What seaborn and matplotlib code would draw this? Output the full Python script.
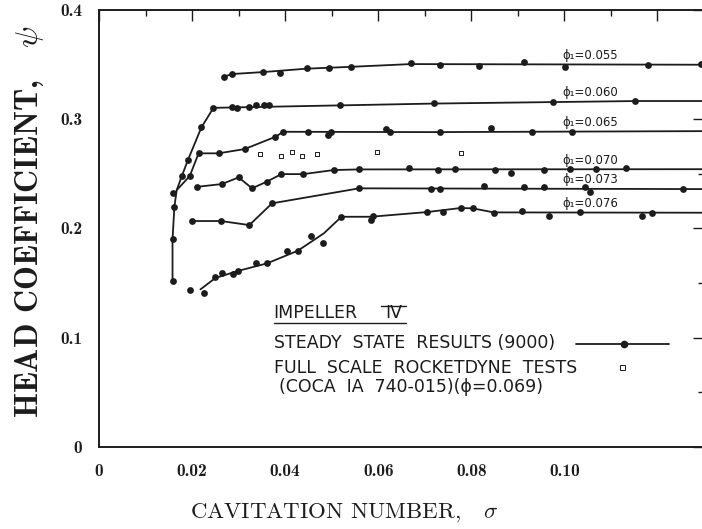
import numpy as np
import seaborn as sns
import matplotlib.pyplot as plt
from matplotlib.ticker import MultipleLocator

# flow coefficients of the six test curves
phi_values = ["0.055", "0.060", "0.065", "0.070", "0.073", "0.076"]

# measured points (cavitation number sigma, head coefficient psi)
sig_055 = [0.0268, 0.0286, 0.0353, 0.0388, 0.0446, 0.0494, 0.0542, 0.0670, 0.0733, 0.0817, 0.0914, 0.1001, 0.1180, 0.1293]
psi_055 = [0.3385, 0.3410, 0.3425, 0.3416, 0.3462, 0.3462, 0.3476, 0.3507, 0.3492, 0.3485, 0.3519, 0.3476, 0.3492, 0.3501]

sig_060 = [0.0158, 0.0158, 0.0162, 0.0159, 0.0178, 0.0191, 0.0220, 0.0246, 0.0286, 0.0297, 0.0323, 0.0338, 0.0354, 0.0365, 0.0517, 0.0720, 0.0976, 0.1152]
psi_060 = [0.1517, 0.1901, 0.2197, 0.2319, 0.2477, 0.2623, 0.2922, 0.3101, 0.3111, 0.3101, 0.3105, 0.3126, 0.3126, 0.3126, 0.3126, 0.3147, 0.3156, 0.3163]

sig_065 = [0.0195, 0.0214, 0.0257, 0.0313, 0.0379, 0.0396, 0.0450, 0.0491, 0.0498, 0.0616, 0.0626, 0.0733, 0.0843, 0.0931, 0.1017]
psi_065 = [0.2477, 0.2685, 0.2685, 0.2724, 0.2836, 0.2882, 0.2882, 0.2852, 0.2882, 0.2904, 0.2879, 0.2882, 0.2919, 0.2877, 0.2882]

sig_070 = [0.0211, 0.0264, 0.0300, 0.0329, 0.0360, 0.0392, 0.0439, 0.0504, 0.0559, 0.0666, 0.0729, 0.0764, 0.0850, 0.0886, 0.0956, 0.1011, 0.1069, 0.1132]
psi_070 = [0.2379, 0.2404, 0.2465, 0.2365, 0.2425, 0.2495, 0.2495, 0.2532, 0.2538, 0.2548, 0.2532, 0.2541, 0.2532, 0.2507, 0.2532, 0.2538, 0.2541, 0.2548]

sig_073 = [0.0200, 0.0262, 0.0323, 0.0372, 0.0559, 0.0713, 0.0733, 0.0827, 0.0913, 0.0956, 0.1044, 0.1056, 0.1254]
psi_073 = [0.2066, 0.2066, 0.2029, 0.2228, 0.2365, 0.2358, 0.2358, 0.2388, 0.2374, 0.2379, 0.2379, 0.2334, 0.2356]

sig_076 = [0.0195, 0.0226, 0.0250, 0.0264, 0.0288, 0.0298, 0.0338, 0.0361, 0.0405, 0.0427, 0.0455, 0.0482, 0.0521, 0.0584, 0.0588, 0.0705, 0.0739, 0.0777, 0.0803, 0.0848, 0.0909, 0.0967, 0.1033, 0.1166, 0.1188]
psi_076 = [0.1435, 0.1410, 0.1557, 0.1588, 0.1581, 0.1609, 0.1685, 0.1679, 0.1792, 0.1794, 0.1929, 0.1867, 0.2105, 0.2075, 0.2112, 0.2151, 0.2151, 0.2187, 0.2182, 0.2142, 0.2157, 0.2114, 0.2145, 0.2114, 0.2142]

# faired curves drawn through the points
fit_sig_055 = [0.0268, 0.0286, 0.0353, 0.0446, 0.0542, 0.0670, 0.1300]
fit_psi_055 = [0.3385, 0.3410, 0.3428, 0.3459, 0.3476, 0.3501, 0.3495]

fit_sig_060 = [0.0158, 0.0158, 0.0162, 0.0167, 0.0178, 0.0191, 0.0220, 0.0246, 0.0720, 0.1152, 0.1300]
fit_psi_060 = [0.1517, 0.1901, 0.2197, 0.2349, 0.2477, 0.2623, 0.2922, 0.3101, 0.3140, 0.3163, 0.3163]

fit_sig_065 = [0.0167, 0.0195, 0.0214, 0.0257, 0.0313, 0.0379, 0.0396, 0.0713, 0.1300]
fit_psi_065 = [0.2349, 0.2477, 0.2685, 0.2685, 0.2724, 0.2836, 0.2882, 0.2879, 0.2888]

fit_sig_070 = [0.0211, 0.0264, 0.0300, 0.0329, 0.0360, 0.0392, 0.0439, 0.0504, 0.0559, 0.1300]
fit_psi_070 = [0.2379, 0.2404, 0.2465, 0.2365, 0.2425, 0.2495, 0.2495, 0.2532, 0.2538, 0.2540]

fit_sig_073 = [0.0200, 0.0262, 0.0323, 0.0372, 0.0559, 0.1300]
fit_psi_073 = [0.2066, 0.2066, 0.2029, 0.2228, 0.2365, 0.2358]

fit_sig_076 = [0.0218, 0.0250, 0.0298, 0.0361, 0.0427, 0.0483, 0.0521, 0.0584, 0.0705, 0.0777, 0.0803, 0.0848, 0.1300]
fit_psi_076 = [0.1441, 0.1545, 0.1609, 0.1679, 0.1794, 0.1953, 0.2105, 0.2105, 0.2148, 0.2185, 0.2182, 0.2145, 0.2142]

# full scale Rocketdyne tests (phi = 0.069)
sig_rocket = [0.0347, 0.0390, 0.0414, 0.0437, 0.0469, 0.0597, 0.0777]
psi_rocket = [0.2676, 0.2660, 0.2699, 0.2663, 0.2676, 0.2694, 0.2690]

x_ticks = [0.0, 0.02, 0.04, 0.06, 0.08, 0.10, 0.12]
x_ticklabels = ["0", "0.02", "0.04", "0.06", "0.08", "0.10", ""]
y_ticks = [0.0, 0.1, 0.2, 0.3, 0.4]
y_ticklabels = ["0", "0.1", "0.2", "0.3", "0.4"]

points = [(sig_055, psi_055), (sig_060, psi_060), (sig_065, psi_065),
          (sig_070, psi_070), (sig_073, psi_073), (sig_076, psi_076)]
fits = [(fit_sig_055, fit_psi_055), (fit_sig_060, fit_psi_060), (fit_sig_065, fit_psi_065),
        (fit_sig_070, fit_psi_070), (fit_sig_073, fit_psi_073), (fit_sig_076, fit_psi_076)]

sns.set_theme(style="white")
plt.rcParams['mathtext.fontset'] = 'cm'
ink = '#1c1c1c'

fig = plt.figure(figsize=(7.02, 5.29), dpi=100)
ax = fig.add_axes([99 / 702, 1 - 447 / 529, 605 / 702, 437.5 / 529])

for (fs, fp), (ps, pp), phi in zip(fits, points, phi_values):
    sns.lineplot(x=fs, y=fp, sort=False, estimator=None, color=ink, lw=1.3, ax=ax, legend=False)
    sns.scatterplot(x=ps, y=pp, s=24, color=ink, edgecolor=ink, linewidth=0, ax=ax, legend=False, zorder=3)
    ax.annotate("ϕ₁=" + phi, xy=(0.0995, np.interp(0.0995, fs, fp)), xytext=(0, 6.5),
                textcoords='offset points', va='center', ha='left', fontsize=8.5,
                color=ink, fontfamily='DejaVu Sans')

sns.scatterplot(x=sig_rocket, y=psi_rocket, marker='s', s=12, facecolor='white',
                edgecolor=ink, linewidth=0.7, ax=ax, legend=False, zorder=3)

# key block
txt = dict(color=ink, fontsize=12.5, fontfamily='DejaVu Sans', va='center', ha='left')
ax.text(0.0375, 0.1225, "IMPELLER", **txt)
ax.text(0.0633, 0.1225, "IV", **dict(txt, ha='center'))
ax.plot([0.0375, 0.0659], [0.1133, 0.1133], color=ink, lw=1.0)
ax.plot([0.0607, 0.0659], [0.1290, 0.1290], color=ink, lw=1.0)
ax.text(0.0375, 0.0953, "STEADY  STATE  RESULTS (9000)", **txt)
ax.plot([0.1026, 0.1224], [0.0946, 0.0946], color=ink, lw=1.3)
ax.plot([0.1129], [0.0946], marker='o', ms=4.5, color=ink)
ax.text(0.0375, 0.0722, "FULL  SCALE  ROCKETDYNE  TESTS", **txt)
ax.plot([0.1123], [0.0734], marker='s', ms=3.6, mfc='white', mec=ink, mew=0.7)
ax.text(0.0386, 0.0548, "(COCA  IA  740-015)(ϕ=0.069)", **txt)

ax.set_xlim(0, 0.13)
ax.set_ylim(0, 0.4)
ax.set_xticks(x_ticks)
ax.set_xticklabels(x_ticklabels, fontfamily='cmb10', fontsize=12.5, color=ink)
ax.set_yticks(y_ticks)
ax.set_yticklabels(y_ticklabels, fontfamily='cmb10', fontsize=12.5, color=ink)
ax.xaxis.set_minor_locator(MultipleLocator(0.01))
ax.yaxis.set_minor_locator(MultipleLocator(0.05))
ax.tick_params(which='both', direction='in', top=True, right=True, color=ink, width=1.0)
ax.tick_params(which='major', length=8, pad=12)
ax.tick_params(which='minor', length=4.5)
for sp in ax.spines.values():
    sp.set_visible(True)
    sp.set_color(ink)
    sp.set_linewidth(1.4)

ax.set_xlabel("CAVITATION NUMBER,   $\\sigma$", fontfamily='cmr10', fontsize=16.5, color=ink)
ax.set_ylabel("HEAD COEFFICIENT,   $\\psi$", fontfamily='cmb10', fontsize=23, color=ink)
ax.xaxis.set_label_coords(0.405, -0.125)
ax.yaxis.set_label_coords(-0.088, 0.515)

fig.savefig("out.png", dpi=100, facecolor='white')
